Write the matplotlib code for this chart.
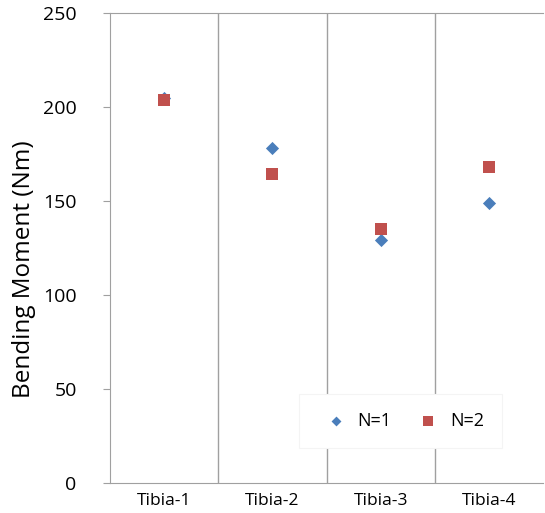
import matplotlib
matplotlib.use("Agg")
import matplotlib.pyplot as plt
import numpy as np

categories = ["Tibia-1", "Tibia-2", "Tibia-3", "Tibia-4"]
n1_values = [205, 178, 129, 149]
n2_values = [203.5, 164.5, 135, 168]
y_ticks = [0, 50, 100, 150, 200, 250]

plt.rcParams['font.family'] = ['Open Sans', 'DejaVu Sans']

fig = plt.figure(figsize=(5.45, 5.13), dpi=100)
ax = fig.add_axes([110/545, 30/513, 433/545, 470/513])

x = np.arange(len(categories))
ax.scatter(x, n1_values, marker='D', s=45, color='#4a7ebb', zorder=3, label='N=1', linewidths=0)
ax.scatter(x, n2_values, marker='s', s=85, color='#c0504d', zorder=4, label='N=2', linewidths=0)

for b in np.arange(0.5, len(categories) - 0.5, 1):
    ax.axvline(b, color='#a0a0a0', lw=1, zorder=1)

ax.set_xlim(-0.5, len(categories) - 0.5)
ax.set_ylim(0, 250)
ax.set_yticks(y_ticks)
ax.set_xticks(x)
ax.set_xticklabels(categories, fontsize=12.5)
ax.tick_params(axis='y', labelsize=14, length=5, color='#a0a0a0', direction='out', pad=19)
ax.tick_params(axis='x', length=0, pad=7)
ax.set_ylabel('Bending Moment (Nm)', fontsize=17.5)
ax.yaxis.set_label_coords(-0.17, 0.455)

for side in ['left', 'bottom', 'top']:
    ax.spines[side].set_color('#a0a0a0')
ax.spines['right'].set_visible(False)

leg = ax.legend(loc='lower right', bbox_to_anchor=(0.926, 0.056), ncol=2, frameon=True,
                fontsize=13, handletextpad=0.2, columnspacing=1.05, borderpad=1.0,
                markerscale=0.75)
leg.get_frame().set_edgecolor('#f4f4f4')
leg.get_frame().set_linewidth(0.8)
leg.get_frame().set_facecolor('white')
leg.get_frame().set_alpha(1)
leg.get_frame().set_boxstyle('square', pad=0.0)
leg.set_zorder(5)

fig.savefig('out.png', dpi=100)
